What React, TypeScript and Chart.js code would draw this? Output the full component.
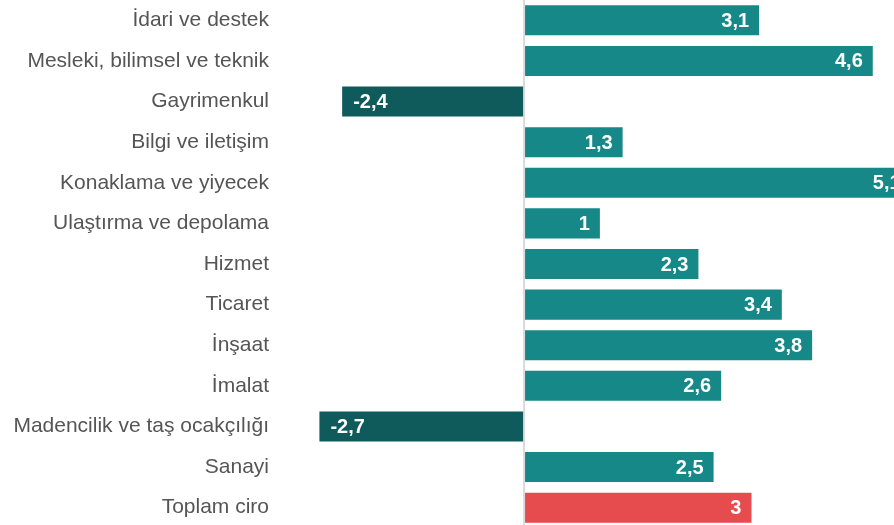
import React, { useEffect, useRef } from "react";
import { Chart, registerables } from "chart.js";

Chart.register(...registerables);

const categories: string[] = [
  "İdari ve destek",
  "Mesleki, bilimsel ve teknik",
  "Gayrimenkul",
  "Bilgi ve iletişim",
  "Konaklama ve yiyecek",
  "Ulaştırma ve depolama",
  "Hizmet",
  "Ticaret",
  "İnşaat",
  "İmalat",
  "Madencilik ve taş ocakçılığı",
  "Sanayi",
  "Toplam ciro",
];

const values: number[] = [3.1, 4.6, -2.4, 1.3, 5.1, 1, 2.3, 3.4, 3.8, 2.6, -2.7, 2.5, 3];

const TEAL = "#168888";
const DARK = "#0f5a5a";
const RED = "#e64b4d";
const FONT = "'Liberation Sans', Arial, Helvetica, sans-serif";

export default function App() {
  const ref = useRef<HTMLCanvasElement | null>(null);

  useEffect(() => {
    if (!ref.current) return;
    const colors = values.map((v, i) =>
      i === values.length - 1 ? RED : v < 0 ? DARK : TEAL
    );

    const labelPlugin = {
      id: "labelsAndZero",
      afterDatasetsDraw(chart: any) {
        const ctx = chart.ctx;
        const xs = chart.scales.x;
        const area = chart.chartArea;
        const x0 = xs.getPixelForValue(0);
        ctx.save();
        ctx.strokeStyle = "#d9d9d9";
        ctx.lineWidth = 2;
        ctx.beginPath();
        ctx.moveTo(x0, area.top);
        ctx.lineTo(x0, area.bottom);
        ctx.stroke();
        ctx.restore();

        const meta = chart.getDatasetMeta(0);
        ctx.save();
        ctx.font = `bold 20px ${FONT}`;
        ctx.fillStyle = "#ffffff";
        ctx.textBaseline = "middle";
        meta.data.forEach((bar: any, i: number) => {
          const v = values[i];
          const txt = String(v).replace(".", ",");
          if (v >= 0) {
            ctx.textAlign = "right";
            ctx.fillText(txt, bar.x - 10, bar.y + 1);
          } else {
            ctx.textAlign = "left";
            ctx.fillText(txt, bar.x + 11, bar.y + 1);
          }
        });
        ctx.restore();
      },
    };

    const chart = new Chart(ref.current, {
      type: "bar",
      data: {
        labels: categories,
        datasets: [
          {
            data: values,
            backgroundColor: colors,
            borderWidth: 0,
            barPercentage: 0.74,
            categoryPercentage: 1,
          },
        ],
      },
      options: {
        indexAxis: "y",
        responsive: false,
        animation: false,
        layout: { padding: 0 },
        plugins: {
          legend: { display: false },
          tooltip: { enabled: false },
        },
        scales: {
          x: {
            display: false,
            min: -3.22,
            max: 4.88,
          },
          y: {
            grid: { display: false, drawTicks: false },
            border: { display: false },
            ticks: {
              color: "#555555",
              font: { family: FONT, size: 21 },
              padding: 11,
              autoSkip: false,
            },
            afterFit(scale: any) {
              scale.width = 280;
              scale.paddingTop = 0;
              scale.paddingBottom = 0;
            },
          },
        },
      },
      plugins: [labelPlugin],
    } as any);

    return () => chart.destroy();
  }, []);

  return (
    <div style={{ position: "absolute", top: 0, left: 0, width: 894, height: 528 }}>
      <canvas ref={ref} width={894} height={528} style={{ display: "block" }} />
    </div>
  );
}
